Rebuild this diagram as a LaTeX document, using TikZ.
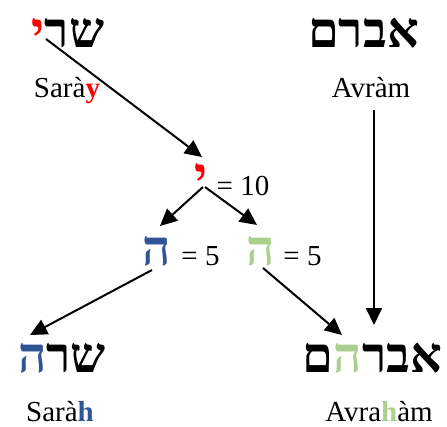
\documentclass[tikz,border=0pt]{standalone}
\usepackage{fontspec}
\setmainfont{Liberation Serif}
\newfontfamily\hebfont[Script=Hebrew]{Liberation Serif Bold}
\usetikzlibrary{arrows.meta}
\definecolor{hred}{RGB}{255,0,0}
\definecolor{hblue}{RGB}{47,85,151}
\definecolor{hgreen}{RGB}{169,209,142}
\tikzset{
  heb/.style={font=\hebfont\fontsize{49.5}{50}\selectfont, inner sep=0pt, anchor=base},
  lat/.style={font=\fontsize{29}{29}\selectfont, inner sep=0pt, anchor=base},
  arr/.style={-{Triangle[length=17pt,width=16pt]}, line width=2pt}
}
\begin{document}
\begin{tikzpicture}[x=1pt,y=-1pt]
\useasboundingbox (0,0) rectangle (447,426);
\node[heb] (sarai) at (68,47.5) {{\color{hred}י}שר};
\node[lat] (saraiL) at (67,97) {Sarà{\color{hred}\textbf{y}}};
\node[heb] (avram) at (363.5,47.5) {אברם};
\node[lat] (avramL) at (371,97) {Avràm};
\node[heb, text=hred] (yod) at (201,192) {י};
\node[lat] (ten) at (243,195) {= 10};
\node[heb, text=hblue] (heB) at (157,265) {ה};
\node[lat] (fiveB) at (200.5,265) {= 5};
\node[heb, text=hgreen] (heG) at (260.5,265) {ה};
\node[lat] (fiveG) at (302.5,265) {= 5};
\node[heb] (sarah) at (62,372) {{\color{hblue}ה}שר};
\node[lat] (sarahL) at (60,421) {Sarà{\color{hblue}\textbf{h}}};
\node[heb] (avraham) at (372.5,372) {ם{\color{hgreen}ה}אבר};
\node[lat] (avrahamL) at (379,421) {Avra{\color{hgreen}\textbf{h}}àm};
\coordinate (s1) at (46,39);
\coordinate (t1) at (202,157);
\coordinate (s2) at (203,187);
\coordinate (t2) at (160,226);
\coordinate (s3) at (205,187);
\coordinate (t3) at (257,225);
\coordinate (s4) at (152,270);
\coordinate (t4) at (30,335);
\coordinate (s5) at (263,268);
\coordinate (t5) at (342,335);
\coordinate (s6) at (374,110);
\coordinate (t6) at (374,325);
\draw[arr] (s1) -- (t1);
\draw[arr] (s2) -- (t2);
\draw[arr] (s3) -- (t3);
\draw[arr] (s4) -- (t4);
\draw[arr] (s5) -- (t5);
\draw[arr] (s6) -- (t6);
\end{tikzpicture}
\end{document}
